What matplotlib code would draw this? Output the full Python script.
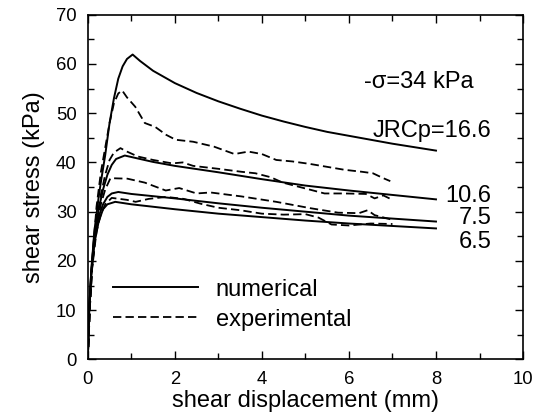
import numpy as np
import matplotlib
matplotlib.use("Agg")
import matplotlib.pyplot as plt

plt.rcParams['font.family'] = ['Liberation Sans', 'DejaVu Sans']
plt.rcParams['lines.scale_dashes'] = False

# numerical curves (solid)
num_x_166 = [0, 0.03, 0.08, 0.15, 0.25, 0.3, 0.4, 0.5, 0.6, 0.7, 0.8, 0.9, 1.03,
             1.2, 1.5, 2, 2.5, 3, 3.5, 4, 4.5, 5, 5.5, 6, 6.5, 7, 7.5, 8]
num_y_166 = [0, 10, 18, 26, 33, 36, 41.5, 48, 53, 57, 59.5, 61, 61.9,
             60.6, 58.6, 56.1, 54.1, 52.4, 50.9, 49.5, 48.3, 47.2, 46.2, 45.4, 44.6, 43.8, 43.1, 42.4]

num_x_106 = [0, 0.03, 0.08, 0.15, 0.25, 0.35, 0.45, 0.55, 0.65, 0.85, 1.0, 1.5, 2, 3, 4, 5, 6, 7, 8]
num_y_106 = [0, 10, 18, 25, 30.5, 34.5, 37.5, 39.5, 40.7, 41.4, 41.1, 40.1, 39.3, 38, 36.6, 35.3, 34.3, 33.4, 32.5]

num_x_75 = [0, 0.03, 0.08, 0.15, 0.25, 0.35, 0.45, 0.55, 0.7, 1.0, 2, 3, 4, 5, 6, 7, 8]
num_y_75 = [0, 10, 17.5, 24, 29, 31.5, 33, 33.7, 34.0, 33.6, 32.7, 31.7, 30.8, 30.0, 29.2, 28.6, 28.0]

num_x_65 = [0, 0.03, 0.08, 0.15, 0.25, 0.35, 0.45, 0.63, 1.0, 2, 3, 4, 5, 6, 7, 8]
num_y_65 = [0, 9.5, 17, 23.5, 28, 30.5, 31.5, 32.0, 31.5, 30.5, 29.6, 28.9, 28.2, 27.6, 27.1, 26.6]

# experimental curves (dashed)
exp_x_166 = [0, 0.05, 0.1, 0.2, 0.3, 0.4, 0.5, 0.6, 0.7, 0.79, 0.9, 1.09, 1.31, 1.55, 1.8, 2.02,
             2.42, 2.9, 3.37, 3.69, 4.0, 4.33, 4.7, 5.1, 5.5, 5.9, 6.3, 6.55, 6.79, 6.95]
exp_y_166 = [0, 12, 20, 31, 38, 43, 48, 52, 54, 54.6, 53.2, 51.3, 48, 47.2, 45.6, 44.6,
             44.2, 43.2, 41.7, 42.2, 41.7, 40.5, 40.2, 39.7, 39.1, 38.5, 38.1, 37.8, 36.8, 36.2]

exp_x_106 = [0, 0.05, 0.1, 0.2, 0.3, 0.4, 0.5, 0.6, 0.75, 0.9, 1.15, 1.5, 1.94, 2.18, 2.42,
             3.0, 3.53, 3.85, 4.2, 4.48, 4.96, 5.44, 5.9, 6.39, 6.59, 6.79, 7.0]
exp_y_106 = [0, 11, 19, 28, 33.5, 37.5, 40.5, 42, 42.9, 42.2, 41.2, 40.5, 39.8, 40.0, 39.3,
             38.7, 38.1, 37.8, 37.0, 35.9, 34.8, 33.7, 33.7, 33.6, 32.7, 33.3, 32.4]

exp_x_75 = [0, 0.05, 0.1, 0.2, 0.3, 0.4, 0.52, 0.91, 1.31, 1.79, 2.1, 2.5, 2.82, 3.53,
            4.33, 5.12, 5.75, 6.23, 6.43, 6.59, 7.02]
exp_y_75 = [0, 11, 19, 27, 31.5, 34.5, 36.8, 36.7, 35.9, 34.3, 34.8, 33.7, 33.9, 33.1,
            32.0, 30.7, 29.8, 29.7, 30.3, 29.3, 28.3]

exp_x_65 = [0, 0.05, 0.1, 0.2, 0.3, 0.4, 0.55, 0.9, 1.1, 1.4, 1.8, 2.2, 2.6, 3.0, 3.5,
            4.0, 4.5, 5.0, 5.3, 5.6, 6.0, 6.5, 7.0]
exp_y_65 = [0, 11, 18.5, 26, 29.5, 31.5, 32.8, 32.4, 32.0, 32.6, 33.0, 32.6, 31.6, 30.8, 30.3,
            29.6, 29.4, 29.5, 28.8, 27.4, 27.2, 27.6, 27.5]

numerical = [(num_x_166, num_y_166), (num_x_106, num_y_106), (num_x_75, num_y_75), (num_x_65, num_y_65)]
experimental = [(exp_x_166, exp_y_166), (exp_x_106, exp_y_106), (exp_x_75, exp_y_75), (exp_x_65, exp_y_65)]

jrc_labels = ["JRCp=16.6", "10.6", "7.5", "6.5"]
jrc_label_y = [46.3, 33.2, 28.7, 23.9]


def main():
    fig = plt.figure(figsize=(5.42, 4.18), dpi=100)
    ax = fig.add_axes([0.162, 0.140, 0.803, 0.825])

    handles = []
    for i, (x, y) in enumerate(numerical):
        h, = ax.plot(x, y, color="black", lw=1.4, label="numerical" if i == 0 else None)
        if i == 0:
            handles.append(h)
    for i, (x, y) in enumerate(experimental):
        h, = ax.plot(x, y, color="black", lw=1.3, linestyle=(0, (6, 3)),
                     label="experimental" if i == 0 else None)
        if i == 0:
            handles.append(h)

    for lab, yy in zip(jrc_labels, jrc_label_y):
        ax.text(9.27, yy, lab, ha="right", va="center", fontsize=17)
    ax.text(6.35, 56.4, "-\u03c3=34 kPa", ha="left", va="center", fontsize=17)

    ax.legend(handles=handles, loc="center left", bbox_to_anchor=(0.059, 0.159),
              frameon=False, fontsize=17, handlelength=3.6, handletextpad=0.73,
              labelspacing=0.34, borderpad=0, borderaxespad=0)

    ax.set_xlim(0, 10)
    ax.set_ylim(0, 70)
    ax.set_xticks(np.arange(0, 11, 2))
    ax.set_xticks(np.arange(0, 11, 1), minor=True)
    ax.set_yticks(np.arange(0, 71, 10))
    ax.set_yticks(np.arange(0, 71, 5), minor=True)
    ax.tick_params(which="both", direction="in", top=True, right=True, labelsize=13.3, pad=8)
    ax.tick_params(which="major", length=6, width=1)
    ax.tick_params(which="minor", length=4, width=1)
    for s in ax.spines.values():
        s.set_linewidth(1.2)

    ax.set_xlabel("shear displacement (mm)", fontsize=17, labelpad=2)
    ax.set_ylabel("shear stress (kPa)", fontsize=17, labelpad=8)

    fig.savefig("out.png", dpi=100)


if __name__ == "__main__":
    main()
